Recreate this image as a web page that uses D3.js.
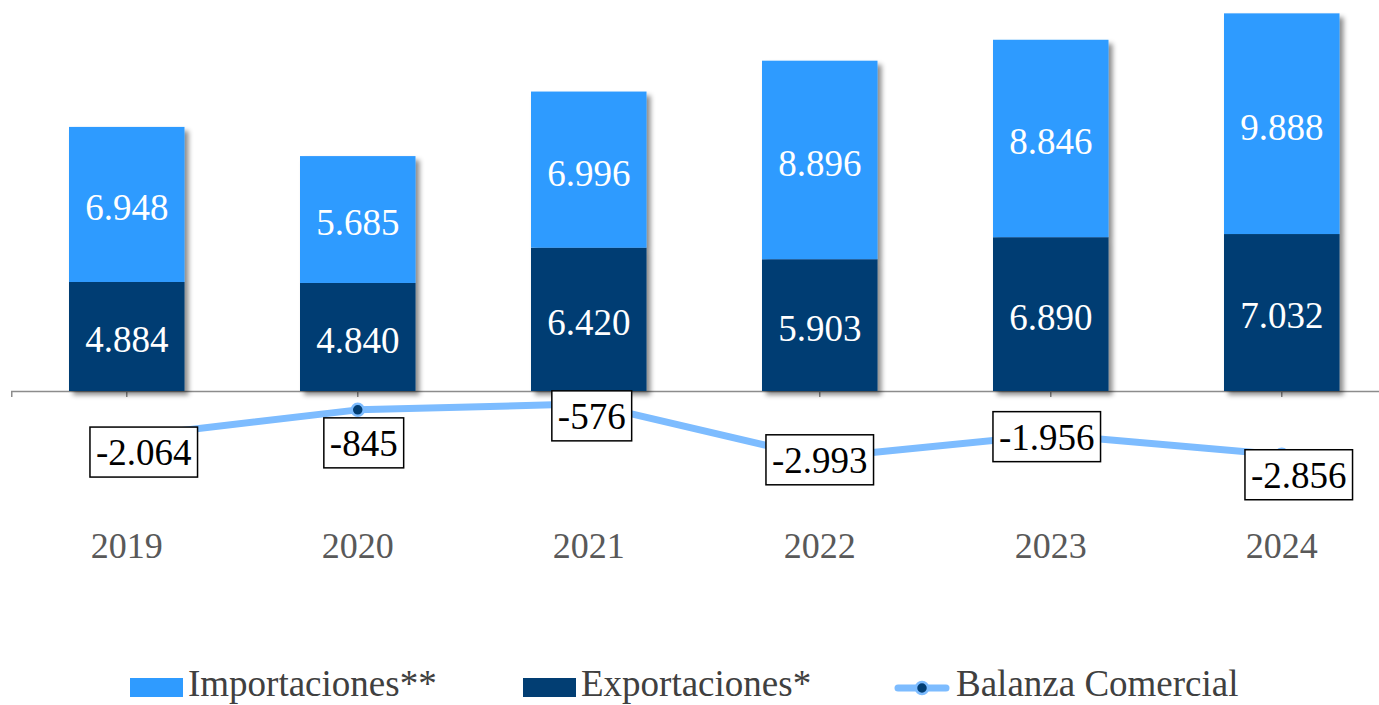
<!DOCTYPE html>
<html>
<head>
<meta charset="utf-8">
<script src="https://cdn.jsdelivr.net/npm/d3@7"></script>
</head>
<body style="margin:0;background:#fff">
<svg id="canvas"></svg>
<script>
let years = ["2019", "2020", "2021", "2022", "2023", "2024"];
let exportaciones = [4884, 4840, 6420, 5903, 6890, 7032];
let importaciones = [6948, 5685, 6996, 8896, 8846, 9888];
let balanza = [-2064, -845, -576, -2993, -1956, -2856];

// hand nudges for the balance boxes (x, y), like in the original sheet
let labelNudge = [[17, 15], [6, 33], [3, 12], [0, 2], [-4, 2], [17, 20]];

let width = 1379;
let height = 705;
let serif = "'Liberation Serif', 'Times New Roman', Times, serif";

let colImp = "#2f9bff";
let colExp = "#023e73";
let colLine = "#7dbcff";

let canvas = d3.select("#canvas")
    .attr("width", width)
    .attr("height", height)
    .style("display", "block")
    .attr("font-family", serif)
    .style("font-family", serif);

let defs = canvas.append("defs");
defs.append("filter")
    .attr("id", "shadow")
    .attr("x", "-20%").attr("y", "-20%").attr("width", "150%").attr("height", "150%")
    .append("feDropShadow")
    .attr("dx", 4).attr("dy", 4).attr("stdDeviation", 2.5)
    .attr("flood-color", "#000").attr("flood-opacity", 0.45);

let step = 231;
let xScale = d3.scaleBand()
    .domain(years)
    .range([69 - 0.25 * step, 69 - 0.25 * step + 6 * step])
    .paddingInner(0.5)
    .paddingOuter(0.25);

let yScale = d3.scaleLinear()
    .domain([0, 17000])
    .range([391, 391 - 17000 * 0.02232]);

// axis line with small ticks
let xAxis = d3.axisBottom(xScale).tickSize(6).tickFormat("");
let gx = canvas.append("g")
    .attr("transform", "translate(0," + yScale(0) + ")")
    .call(xAxis);
gx.select(".domain").attr("stroke", "#8c8c8c").attr("stroke-width", 1.5);
gx.selectAll(".tick line").attr("stroke", "#8c8c8c").attr("stroke-width", 1.5);

let data = years.map((y, i) => ({
    year: y, exp: exportaciones[i], imp: importaciones[i], bal: balanza[i], i: i
}));

// bars
let bars = canvas.append("g").attr("filter", "url(#shadow)");
bars.selectAll(".exp")
    .data(data)
    .enter()
    .append("rect")
    .attr("class", "exp")
    .attr("x", d => xScale(d.year))
    .attr("width", xScale.bandwidth())
    .attr("y", d => yScale(d.exp))
    .attr("height", d => yScale(0) - yScale(d.exp))
    .attr("fill", colExp);

bars.selectAll(".imp")
    .data(data)
    .enter()
    .append("rect")
    .attr("class", "imp")
    .attr("x", d => xScale(d.year))
    .attr("width", xScale.bandwidth())
    .attr("y", d => yScale(d.exp + d.imp))
    .attr("height", d => yScale(d.exp) - yScale(d.exp + d.imp))
    .attr("fill", colImp);

let fmt = v => d3.format(",")(v).replace(/,/g, ".").replace("\u2212", "-");

let cx = d => xScale(d.year) + xScale.bandwidth() / 2;

canvas.append("g").selectAll("text")
    .data(data)
    .enter()
    .append("text")
    .attr("x", cx)
    .attr("y", d => (yScale(0) + yScale(d.exp)) / 2 + 3)
    .attr("dy", "0.35em")
    .attr("text-anchor", "middle")
    .attr("font-family", serif)
    .attr("fill", "#fff")
    .attr("font-size", 37)
    .text(d => fmt(d.exp));

canvas.append("g").selectAll("text")
    .data(data)
    .enter()
    .append("text")
    .attr("x", cx)
    .attr("y", d => (yScale(d.exp) + yScale(d.exp + d.imp)) / 2 + 3)
    .attr("dy", "0.35em")
    .attr("text-anchor", "middle")
    .attr("font-family", serif)
    .attr("fill", "#fff")
    .attr("font-size", 37)
    .text(d => fmt(d.imp));

// balance line
let line = d3.line()
    .x(cx)
    .y(d => yScale(d.bal));

canvas.append("path")
    .datum(data)
    .attr("d", line)
    .attr("fill", "none")
    .attr("stroke", colLine)
    .attr("stroke-width", 7)
    .attr("stroke-linejoin", "round");

canvas.append("g").selectAll("circle")
    .data(data)
    .enter()
    .append("circle")
    .attr("cx", cx)
    .attr("cy", d => yScale(d.bal))
    .attr("r", 6)
    .attr("fill", colExp)
    .attr("stroke", colLine)
    .attr("stroke-width", 2.5);

// balance labels in boxes
let lab = canvas.append("g").selectAll("g")
    .data(data)
    .enter()
    .append("g")
    .attr("transform", d => "translate(" + (cx(d) + labelNudge[d.i][0]) + "," + (yScale(d.bal) + labelNudge[d.i][1]) + ")");

lab.append("text")
    .attr("text-anchor", "middle")
    .attr("dy", "0.35em")
    .attr("font-family", serif)
    .attr("font-size", 37)
    .attr("fill", "#000")
    .text(d => fmt(d.bal))
    .each(function () {
        let bb = this.getBBox();
        d3.select(this.parentNode).insert("rect", "text")
            .attr("x", bb.x - 6)
            .attr("y", -25)
            .attr("width", bb.width + 12)
            .attr("height", 50)
            .attr("fill", "#fff")
            .attr("stroke", "#000")
            .attr("stroke-width", 1.5);
    });

// year labels
canvas.append("g").selectAll("text")
    .data(data)
    .enter()
    .append("text")
    .attr("x", cx)
    .attr("y", 558)
    .attr("text-anchor", "middle")
    .attr("font-family", serif)
    .attr("fill", "#595959")
    .attr("font-size", 36)
    .text(d => d.year);

// legend
let legend = canvas.append("g").attr("transform", "translate(0,688)");
let items = [
    { name: "Importaciones**", type: "rect", color: colImp, x: 130 },
    { name: "Exportaciones*", type: "rect", color: colExp, x: 523 },
    { name: "Balanza Comercial", type: "line", color: colLine, x: 895 }
];
items.forEach(it => {
    let g = legend.append("g").attr("transform", "translate(" + it.x + ",0)");
    if (it.type === "rect") {
        g.append("rect").attr("x", 0).attr("y", -10).attr("width", 53).attr("height", 19).attr("fill", it.color);
    } else {
        g.append("line").attr("x1", 3).attr("x2", 51).attr("y1", 0).attr("y2", 0)
            .attr("stroke", it.color).attr("stroke-width", 7).attr("stroke-linecap", "round");
        g.append("circle").attr("cx", 27).attr("cy", 0).attr("r", 6)
            .attr("fill", colExp).attr("stroke", colLine).attr("stroke-width", 2.5);
    }
    g.append("text")
        .attr("x", it.type === "rect" ? 58 : 61)
        .attr("y", 8)
        .attr("font-family", serif)
        .attr("font-size", 37)
        .attr("fill", "#404040")
        .text(it.name);
});
</script>
</body>
</html>
